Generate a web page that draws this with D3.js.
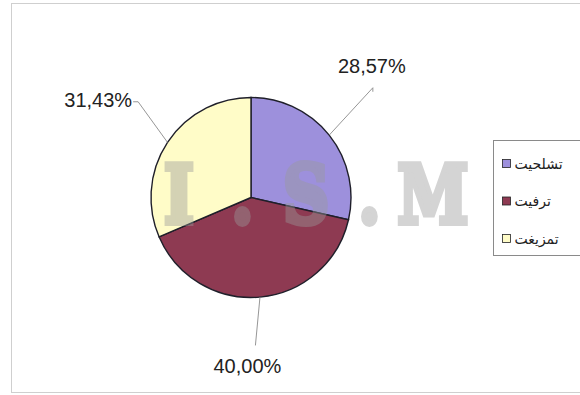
<!DOCTYPE html>
<html>
<head>
<meta charset="utf-8">
<script src="https://cdn.jsdelivr.net/npm/d3@7"></script>
<style>
  body { margin: 0; background: #fff; }
  svg { display: block; }
</style>
</head>
<body>
<svg width="580" height="395"></svg>
<script>
// data
const categories = ['تشلحيت', 'ترفيت', 'تمزيغت'];
const values = [28.57, 40.00, 31.43];
const labels = ['28,57%', '40,00%', '31,43%'];
const colors = ['#9d90dc', '#8e3a52', '#fffcc8'];
const watermark = ['I', '.', 'S', '.', 'M'];

let svg = d3.select('svg');

// chart frame
svg.append('rect')
  .attr('x', 11.5).attr('y', 3.5)
  .attr('width', 600).attr('height', 389)
  .attr('fill', '#fff')
  .attr('stroke', '#cfcfcf');

let cx = 251, cy = 197.5, radius = 100;
let g = svg.append('g').attr('transform', `translate(${cx},${cy})`);

let pie = d3.pie().sort(null).value((d) => d);
let arcs = pie(values);
let arc = d3.arc().innerRadius(0).outerRadius(radius);

g.selectAll('path.slice')
  .data(arcs)
  .enter()
  .append('path')
  .attr('class', 'slice')
  .attr('d', arc)
  .attr('fill', (d, i) => colors[i])
  .attr('stroke', '#1f1f2a')
  .attr('stroke-width', 1.4);

// leader lines + labels, excel style
let mid = (d) => (d.startAngle + d.endAngle) / 2;
let pt = (a, r) => [Math.sin(a) * r, -Math.cos(a) * r];
// small per-label angle nudges so the lines land where the original's do
let nudge = [-0.06, 0.06, 0.12];
let outerR = [164, 148, 148];

arcs.forEach((d, i) => {
  let a = mid(d);
  let p0 = pt(a, radius);
  let p1 = pt(a + nudge[i], outerR[i]);
  let path = [p0, p1];
  if (i === 0) path.push([p1[0], p1[1] + 4]);
  if (i === 2) path.push([p1[0] - 5, p1[1]]);
  g.append('path')
    .attr('d', d3.line()(path))
    .attr('fill', 'none')
    .attr('stroke', '#8a8a8a')
    .attr('stroke-width', 0.9);

  let tx = p1[0], ty = p1[1], anchor = 'middle';
  if (i === 0) { tx = p1[0] - 1; ty = p1[1] - 15; }
  if (i === 1) { tx = p1[0] - 8; ty = p1[1] + 28; }
  if (i === 2) { tx = p1[0] - 6; ty = p1[1] + 5; anchor = 'end'; }
  g.append('text')
    .attr('x', tx).attr('y', ty)
    .attr('text-anchor', anchor)
    .attr('font-family', 'Liberation Sans, Arial, sans-serif')
    .attr('font-size', 20)
    .attr('fill', '#222')
    .text(labels[i]);
});

// watermark over the pie, heavy slab serif like courier bold
let sx = 0.8;
let wx = d3.scalePoint().domain(d3.range(watermark.length)).range([179, 433]);
svg.append('g')
  .attr('opacity', 0.42)
  .attr('transform', `scale(${sx},1)`)
  .selectAll('text')
  .data(watermark)
  .enter()
  .append('text')
  .attr('x', (d, i) => wx(i) / sx)
  .attr('y', 223)
  .attr('text-anchor', 'middle')
  .attr('font-family', 'DejaVu Serif, serif')
  .attr('font-weight', 'bold')
  .attr('font-size', 80)
  .attr('fill', '#9a9a9a')
  .attr('stroke', '#9a9a9a')
  .attr('stroke-width', 6)
  .attr('stroke-linejoin', 'miter')
  .text((d) => d);

// legend
let legend = svg.append('g').attr('transform', 'translate(493.5,140.5)');
legend.append('rect')
  .attr('width', 100).attr('height', 115)
  .attr('fill', '#fff')
  .attr('stroke', '#8a8a8a');

let ly = d3.scalePoint().domain(d3.range(categories.length)).range([23, 98]);
let items = legend.selectAll('g.item')
  .data(categories)
  .enter()
  .append('g')
  .attr('class', 'item')
  .attr('transform', (d, i) => `translate(0,${ly(i)})`);
items.append('rect')
  .attr('x', 9).attr('y', -4)
  .attr('width', 8).attr('height', 8)
  .attr('fill', (d, i) => colors[i])
  .attr('stroke', '#222')
  .attr('stroke-width', 0.8);
items.append('text')
  .attr('x', 21).attr('y', 5)
  .attr('font-family', 'DejaVu Sans, sans-serif')
  .attr('font-size', 14)
  .attr('fill', '#222')
  .text((d) => d);
</script>
</body>
</html>
